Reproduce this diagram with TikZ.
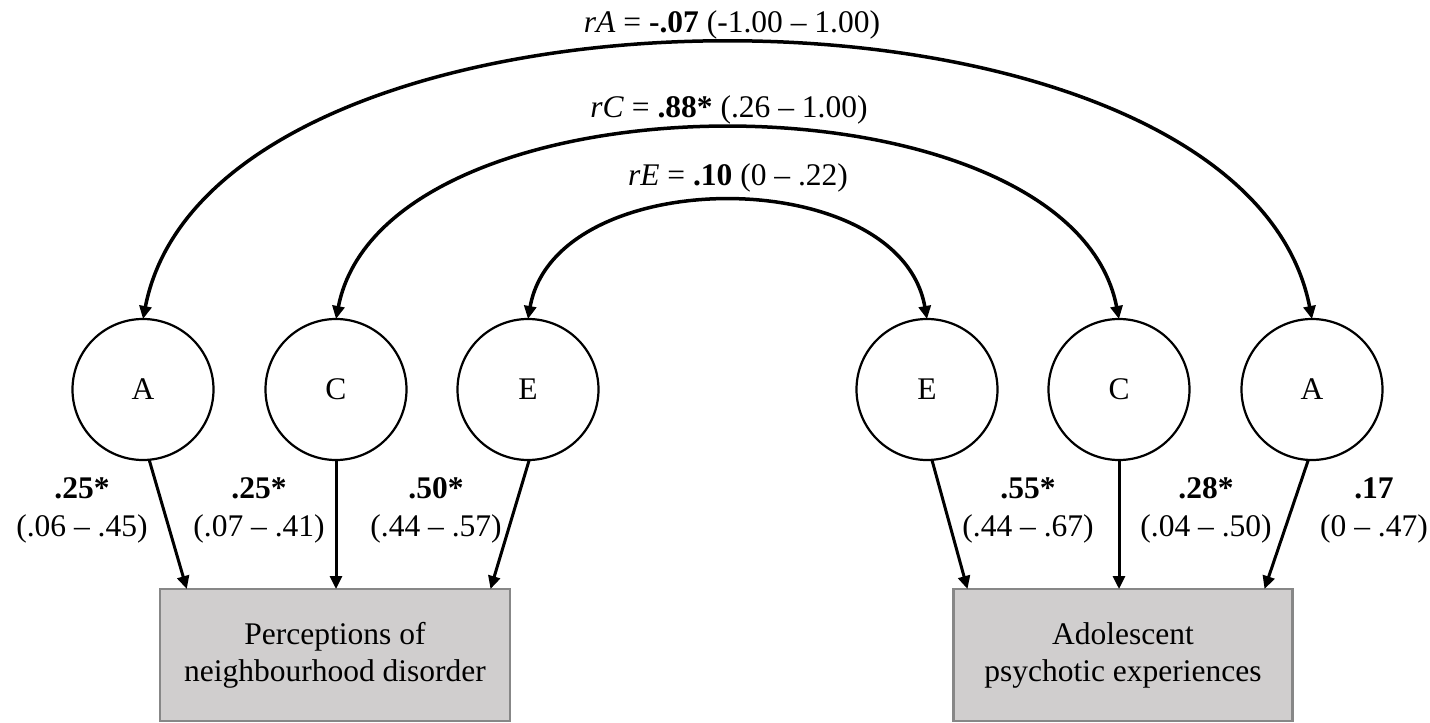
\documentclass[tikz,border=0pt]{standalone}
\usepackage{fontspec}
\setmainfont{Liberation Serif}
\usetikzlibrary{arrows.meta}
\definecolor{boxfill}{HTML}{D0CECE}
\definecolor{boxline}{HTML}{878787}

\begin{document}
\begin{tikzpicture}[x=1pt,y=-1pt]
\tikzstyle{every node}=[font=\fontsize{31.5}{38}\selectfont]
\tikzstyle{latent}=[circle,draw,line width=2.2pt,minimum size=141pt,inner sep=0pt,outer sep=0pt]
\tikzstyle{observed}=[rectangle,draw=boxline,fill=boxfill,line width=2.5pt,minimum height=132pt,align=center,outer sep=0pt,font=\fontsize{31.5}{37}\selectfont]
\tikzstyle{load}=[line width=3pt,-{Triangle[length=13pt,width=12pt]}]
\tikzstyle{cov}=[line width=3.5pt,{Triangle[length=13pt,width=12pt]}-{Triangle[length=13pt,width=12pt]}]
\tikzstyle{est}=[align=center]
\useasboundingbox (0,0) rectangle (1430,723);
% twin factors
\node[latent] (A1) at (143,389.5) {A};
\node[latent] (C1) at (336,389.5) {C};
\node[latent] (E1) at (528,389.5) {E};
\node[latent] (E2) at (927,389.5) {E};
\node[latent] (C2) at (1119,389.5) {C};
\node[latent] (A2) at (1312,389.5) {A};
% measured traits
\node[observed,minimum width=350pt] (P) at (335,655) {Perceptions of\\neighbourhood disorder};
\node[observed,minimum width=339pt] (Q) at (1123,655) {Adolescent\\psychotic experiences};
% paths
\draw[load] (A1.-85) -- (P.156);
\draw[load] (C1.south) -- (C1.south |- P.north);
\draw[load] (E1.-89) -- (P.23);
\draw[load] (E2.-86) -- (Q.157);
\draw[load] (C2.south) -- (C2.south |- Q.north);
\draw[load] (A2.-93) -- (Q.25);
% correlations
\draw[cov] (A1.north) .. controls +(71.4,-367) and +(-71.4,-367) .. (A2.north);
\draw[cov] (C1.north) .. controls +(49.2,-253.3) and +(-49.2,-253.3) .. (C2.north);
\draw[cov] (E1.north) .. controls +(27.6,-156.6) and +(-27.6,-156.6) .. (E2.north);
% estimates
\node[est] (lA1) at (82,510) {\textbf{.25*}\\(.06 -- .45)};
\node[est] (lC1) at (259,510) {\textbf{.25*}\\(.07 -- .41)};
\node[est] (lE1) at (436,510) {\textbf{.50*}\\(.44 -- .57)};
\node[est] (lE2) at (1028,510) {\textbf{.55*}\\(.44 -- .67)};
\node[est] (lC2) at (1206,510) {\textbf{.28*}\\(.04 -- .50)};
\node[est] (lA2) at (1374,510) {\textbf{.17}\\(0 -- .47)};
\node (rA) at (732,25) {\textit{rA} = \textbf{-.07} (-1.00 -- 1.00)};
\node (rC) at (729,110) {\textit{rC} = \textbf{.88*} (.26 -- 1.00)};
\node (rE) at (738,178) {\textit{rE} = \textbf{.10} (0 -- .22)};
\end{tikzpicture}
\end{document}
